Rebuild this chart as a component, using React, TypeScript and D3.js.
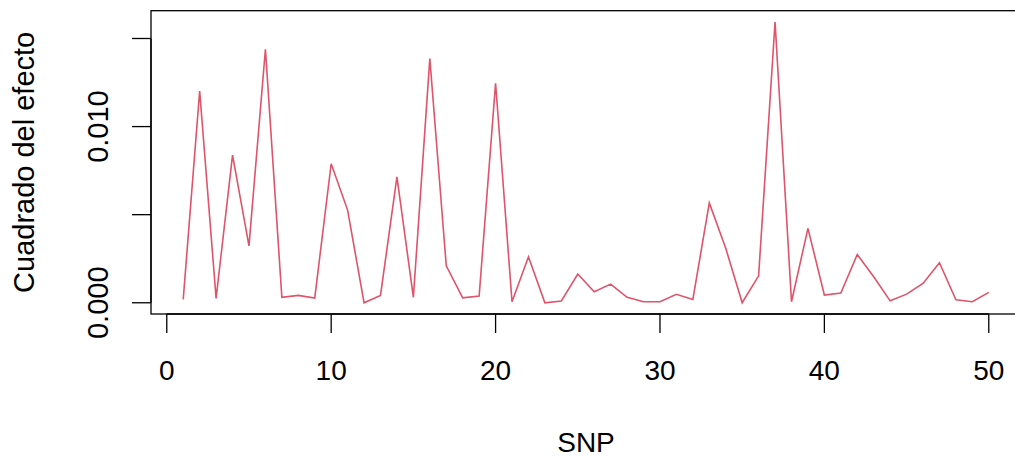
import React from "react";
import * as d3 from "d3";

// squared effect per SNP
const snp = d3.range(1, 51);
const effectSq = [
  0.00019, 0.01202, 0.00025, 0.00838, 0.00323, 0.01439, 0.00031, 0.00042, 0.00027, 0.00789,
  0.00526, 0.0, 0.00042, 0.00715, 0.00031, 0.01386, 0.0021, 0.00028, 0.00038, 0.01246,
  0.00006, 0.00261, 0.0, 0.0001, 0.00163, 0.00062, 0.00106, 0.00031, 0.00006, 0.00006,
  0.00048, 0.00019, 0.00567, 0.00309, 0.0, 0.00153, 0.01594, 0.00006, 0.00422, 0.00044,
  0.00055, 0.00274, 0.00148, 0.00011, 0.00049, 0.0011, 0.00227, 0.00017, 0.00006, 0.00059,
];
const xTicks = [0, 10, 20, 30, 40, 50];
const yTicks = [0, 0.005, 0.01, 0.015];
const yLabels = [0, 0.01];

const width = 1015;
const height = 458;
const font = "'Liberation Sans', Arial, Helvetica, sans-serif";

// R style 4% axis expansion
const pad = (lo: number, hi: number) => {
  const r = hi - lo;
  return [lo - 0.04 * r, hi + 0.04 * r];
};

export default function App() {
  const plot = { left: 151, right: 1021, top: 10.7, bottom: 314 };

  const x = d3
    .scaleLinear()
    .domain(pad(d3.min(snp)!, d3.max(snp)!))
    .range([plot.left, plot.right]);
  const [ymin, ymax] = d3.extent(effectSq) as [number, number];
  const y = d3.scaleLinear().domain(pad(ymin, ymax)).range([plot.bottom, plot.top]);

  const line = d3
    .line<number>()
    .x((_, i) => x(snp[i]))
    .y((d) => y(d));

  const tick = 19;

  return (
    <svg
      width={width}
      height={height}
      style={{ position: "absolute", left: 0, top: 0, background: "#fff" }}
    >
      <path d={line(effectSq) ?? ""} fill="none" stroke="#DF536B" strokeWidth={1.6} strokeLinejoin="miter" />

      <rect
        x={plot.left}
        y={plot.top}
        width={plot.right - plot.left}
        height={plot.bottom - plot.top}
        fill="none"
        stroke="#000"
        strokeWidth={1.3}
      />

      {/* x axis */}
      <g>
        <line x1={x(xTicks[0])} x2={x(xTicks[xTicks.length - 1])} y1={plot.bottom} y2={plot.bottom} stroke="#000" strokeWidth={1.3} />
        {xTicks.map((t) => (
          <g key={t}>
            <line x1={x(t)} x2={x(t)} y1={plot.bottom} y2={plot.bottom + tick} stroke="#000" strokeWidth={1.3} />
            <text x={x(t)} y={380} textAnchor="middle" fontFamily={font} fontSize={28}>
              {t}
            </text>
          </g>
        ))}
        <text x={(plot.left + plot.right) / 2} y={451.5} textAnchor="middle" fontFamily={font} fontSize={28}>
          SNP
        </text>
      </g>

      {/* y axis */}
      <g>
        <line x1={plot.left} x2={plot.left} y1={y(yTicks[0])} y2={y(yTicks[yTicks.length - 1])} stroke="#000" strokeWidth={1.3} />
        {yTicks.map((t) => (
          <line key={t} x1={plot.left - tick} x2={plot.left} y1={y(t)} y2={y(t)} stroke="#000" strokeWidth={1.3} />
        ))}
        {yLabels.map((t) => (
          <text
            key={t}
            transform={`translate(108,${y(t)}) rotate(-90)`}
            textAnchor="middle"
            fontFamily={font}
            fontSize={29}
          >
            {d3.format(".3f")(t)}
          </text>
        ))}
        <text
          transform={`translate(33.5,${(plot.top + plot.bottom) / 2}) rotate(-90)`}
          textAnchor="middle"
          fontFamily={font}
          fontSize={29}
        >
          Cuadrado del efecto
        </text>
      </g>
    </svg>
  );
}
